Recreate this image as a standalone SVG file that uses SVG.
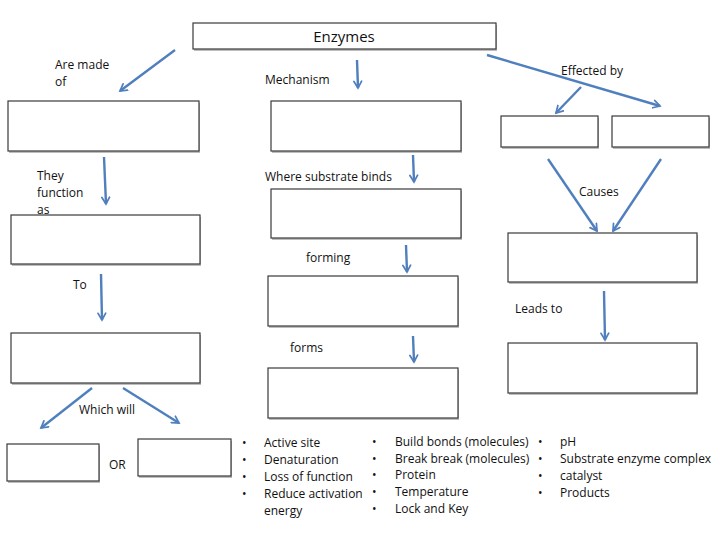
<svg xmlns="http://www.w3.org/2000/svg" width="720" height="540" viewBox="0 0 720 540">
<style>
.box{fill:#fff;stroke:#3a3a3a;stroke-width:1.2}
.sh{fill:#bdbdbd}
.t{font-family:"Open Sans","Liberation Sans",sans-serif;font-size:12px;fill:#111}
.c{fill:none;stroke:#4f7fbd;stroke-width:2.4;marker-end:url(#ah)}
</style>
<defs>
<marker id="ah" viewBox="0 0 10 10" refX="8" refY="5" markerWidth="4" markerHeight="4" orient="auto" markerUnits="strokeWidth">
<path d="M1,1 L8,5 L1,9" fill="none" stroke="#4f7fbd" stroke-width="1.8" stroke-linecap="round"/>
</marker>
</defs>
<rect width="720" height="540" fill="#fff"/>
<g id="n-enzymes"><rect class="sh" x="194" y="25" width="303" height="26"/><rect class="box" x="193" y="23" width="303" height="26"/><text class="t" x="344" y="42" text-anchor="middle" style="font-size:15px">Enzymes</text></g>
<g id="n-l1"><rect class="sh" x="9" y="103" width="191" height="50"/><rect class="box" x="8" y="101" width="191" height="50"/></g>
<g id="n-m1"><rect class="sh" x="272" y="103" width="190" height="50"/><rect class="box" x="271" y="101" width="190" height="50"/></g>
<g id="n-r1a"><rect class="sh" x="502" y="118" width="97" height="31"/><rect class="box" x="501" y="116" width="97" height="31"/></g>
<g id="n-r1b"><rect class="sh" x="613" y="118" width="97" height="31"/><rect class="box" x="612" y="116" width="97" height="31"/></g>
<g id="n-l2"><rect class="sh" x="12" y="217" width="189" height="49"/><rect class="box" x="11" y="215" width="189" height="49"/></g>
<g id="n-m2"><rect class="sh" x="272" y="191" width="190" height="49"/><rect class="box" x="271" y="189" width="190" height="49"/></g>
<g id="n-r2"><rect class="sh" x="509" y="235" width="189" height="49"/><rect class="box" x="508" y="233" width="189" height="49"/></g>
<g id="n-m3"><rect class="sh" x="269" y="278" width="190" height="50"/><rect class="box" x="268" y="276" width="190" height="50"/></g>
<g id="n-l3"><rect class="sh" x="12" y="335" width="189" height="50"/><rect class="box" x="11" y="333" width="189" height="50"/></g>
<g id="n-r3"><rect class="sh" x="509" y="345" width="189" height="50"/><rect class="box" x="508" y="343" width="189" height="50"/></g>
<g id="n-m4"><rect class="sh" x="269" y="370" width="190" height="50"/><rect class="box" x="268" y="368" width="190" height="50"/></g>
<g id="n-l4a"><rect class="sh" x="8" y="446" width="92" height="37"/><rect class="box" x="7" y="444" width="92" height="37"/></g>
<g id="n-l4b"><rect class="sh" x="139" y="441" width="93" height="37"/><rect class="box" x="138" y="439" width="93" height="37"/></g>
<g id="connectors">
<line class="c" x1="175" y1="50" x2="120" y2="91"/>
<line class="c" x1="357" y1="60" x2="358" y2="88"/>
<line class="c" x1="487" y1="55" x2="660" y2="106"/>
<line class="c" x1="581" y1="87" x2="556" y2="113"/>
<line class="c" x1="104" y1="157" x2="106" y2="204"/>
<line class="c" x1="413" y1="155" x2="414" y2="182"/>
<line class="c" x1="548" y1="159" x2="597" y2="231"/>
<line class="c" x1="661" y1="159" x2="613" y2="231"/>
<line class="c" x1="406" y1="245" x2="407" y2="272"/>
<line class="c" x1="413" y1="336" x2="414" y2="362"/>
<line class="c" x1="604" y1="291" x2="605" y2="340"/>
<line class="c" x1="101" y1="274" x2="102" y2="320"/>
<line class="c" x1="92" y1="388" x2="41" y2="428"/>
<line class="c" x1="123" y1="388" x2="179" y2="423"/>
</g>
<g id="labels">
<text class="t" x="55" y="69">Are made</text>
<text class="t" x="55" y="86">of</text>
<text class="t" x="265" y="84">Mechanism</text>
<text class="t" x="561" y="75">Effected by</text>
<text class="t" x="37" y="180">They</text>
<text class="t" x="37" y="197">function</text>
<text class="t" x="37" y="214">as</text>
<text class="t" x="265" y="181">Where substrate binds</text>
<text class="t" x="579" y="196">Causes</text>
<text class="t" x="306" y="262">forming</text>
<text class="t" x="73" y="289">To</text>
<text class="t" x="515" y="313">Leads to</text>
<text class="t" x="290" y="352">forms</text>
<text class="t" x="79" y="414">Which will</text>
<text class="t" x="109" y="469">OR</text>
</g>
<g id="list1" class="t">
<text x="242" y="447">•</text><text x="264" y="447">Active site</text>
<text x="242" y="464">•</text><text x="264" y="464">Denaturation</text>
<text x="242" y="481">•</text><text x="264" y="481">Loss of function</text>
<text x="242" y="498">•</text><text x="264" y="498">Reduce activation</text>
<text x="264" y="515">energy</text>
</g>
<g id="list2" class="t">
<text x="372" y="446">•</text><text x="395" y="446">Build bonds (molecules)</text>
<text x="372" y="463">•</text><text x="395" y="463">Break break (molecules)</text>
<text x="372" y="479">•</text><text x="395" y="479">Protein</text>
<text x="372" y="496">•</text><text x="395" y="496">Temperature</text>
<text x="372" y="513">•</text><text x="395" y="513">Lock and Key</text>
</g>
<g id="list3" class="t">
<text x="538" y="446">•</text><text x="560" y="446">pH</text>
<text x="538" y="463">•</text><text x="560" y="463">Substrate enzyme complex</text>
<text x="538" y="480">•</text><text x="560" y="480">catalyst</text>
<text x="538" y="497">•</text><text x="560" y="497">Products</text>
</g>
</svg>
